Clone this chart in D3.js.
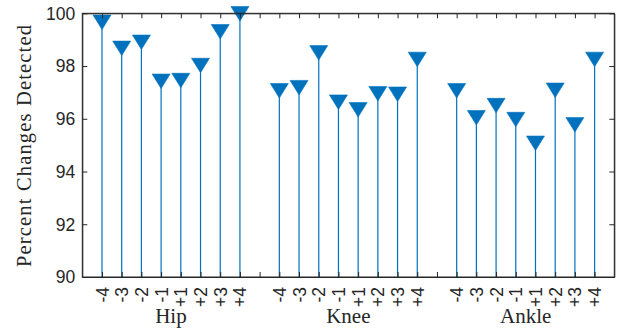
<!DOCTYPE html>
<html><head><meta charset="utf-8">
<script src="https://cdn.jsdelivr.net/npm/d3@7"></script>
<style>body{margin:0;background:#fff}svg{display:block}</style>
</head><body>
<svg id="c" width="618" height="330"></svg>
<script>
const groups = ["Hip", "Knee", "Ankle"];
const offsets = ["-4", "-3", "-2", "-1", "+1", "+2", "+3", "+4"];
const hipValues = [99.66, 98.67, 98.9, 97.42, 97.45, 98.02, 99.3, 99.98];
const kneeValues = [97.06, 97.18, 98.5, 96.63, 96.34, 96.95, 96.93, 98.25];
const ankleValues = [97.06, 96.04, 96.5, 95.97, 95.07, 97.08, 95.77, 98.25];
const yTicks = [90, 92, 94, 96, 98, 100];
const yLabel = "Percent Changes Detected";

const seriesByGroup = [hipValues, kneeValues, ankleValues];
const data = [];
seriesByGroup.forEach((vals, g) => {
  vals.forEach((v, i) => data.push({pos: g * 9 + i + 1, label: offsets[i], value: v}));
});
const tickPositions = d3.range(1, 27);
const labelAt = new Map(data.map(d => [d.pos, d.label]));

const svg = d3.select("#c");
const L = 82.3, R = 614.3, T = 13.3, B = 277;
const x = d3.scaleLinear().domain([0, 27]).range([L, R]);
const y = d3.scaleLinear().domain([90, 100]).range([B, T]);
const axisColor = "#262626";
const blue = "#0072BD";
const tickFont = "'Liberation Sans', Arial, sans-serif";
const serif = "'Liberation Serif', 'DejaVu Serif', serif";

// stems
svg.append("g").selectAll("line").data(data).join("line")
  .attr("x1", d => x(d.pos)).attr("x2", d => x(d.pos))
  .attr("y1", y(90)).attr("y2", d => y(d.value))
  .attr("stroke", blue).attr("stroke-width", 1.2);

// markers
const tri = (w, h) => `M${-w/2},${-h/2}L${w/2},${-h/2}L0,${h/2}Z`;
svg.append("g").selectAll("path").data(data).join("path")
  .attr("transform", d => `translate(${x(d.pos)},${y(d.value)})`)
  .attr("d", tri(18, 14.5))
  .attr("fill", blue).attr("stroke", blue).attr("stroke-width", 0.6);

// axes
const gx = svg.append("g").attr("transform", `translate(0,${B})`)
  .call(d3.axisBottom(x).tickValues(tickPositions).tickSizeInner(-5).tickSizeOuter(0)
    .tickFormat(p => labelAt.get(p) || ""));
const gxt = svg.append("g").attr("transform", `translate(0,${T})`)
  .call(d3.axisTop(x).tickValues(tickPositions).tickSizeInner(-5).tickSizeOuter(0).tickFormat(""));
const gy = svg.append("g").attr("transform", `translate(${L},0)`)
  .call(d3.axisLeft(y).tickValues(yTicks).tickSizeInner(-5).tickSizeOuter(0).tickFormat(d3.format("d")));
const gyr = svg.append("g").attr("transform", `translate(${R},0)`)
  .call(d3.axisRight(y).tickValues(yTicks).tickSizeInner(-5).tickSizeOuter(0).tickFormat(""));

[gx, gxt, gy, gyr].forEach(g => {
  g.select(".domain").attr("stroke", axisColor).attr("stroke-width", 1);
  g.selectAll(".tick line").attr("stroke", axisColor).attr("stroke-width", 1);
});
svg.append("rect").attr("x", L).attr("y", T).attr("width", R - L).attr("height", B - T)
  .attr("fill", "none").attr("stroke", axisColor).attr("stroke-width", 1);

gy.selectAll(".tick text").attr("x", -7).attr("dy", "0.34em")
  .attr("font-family", tickFont).attr("font-size", 17.5).attr("fill", axisColor);

gx.selectAll(".tick text")
  .attr("font-family", tickFont).attr("font-size", 17.5).attr("fill", axisColor)
  .attr("text-anchor", "end").attr("dy", null).attr("y", 0)
  .attr("transform", "translate(6,10) rotate(-90)");

// group labels
groups.forEach((g, i) => {
  svg.append("text").attr("x", x(i * 9 + 4.5)).attr("y", 323)
    .attr("text-anchor", "middle").attr("font-family", serif).attr("font-size", 21)
    .attr("fill", axisColor).text(g);
});

// y label
svg.append("text").attr("transform", `translate(31,146) rotate(-90)`)
  .attr("text-anchor", "middle").attr("font-family", serif).attr("font-size", 20.5)
  .attr("textLength", 242).attr("lengthAdjust", "spacing")
  .attr("fill", axisColor).text(yLabel);
</script>
</body></html>
